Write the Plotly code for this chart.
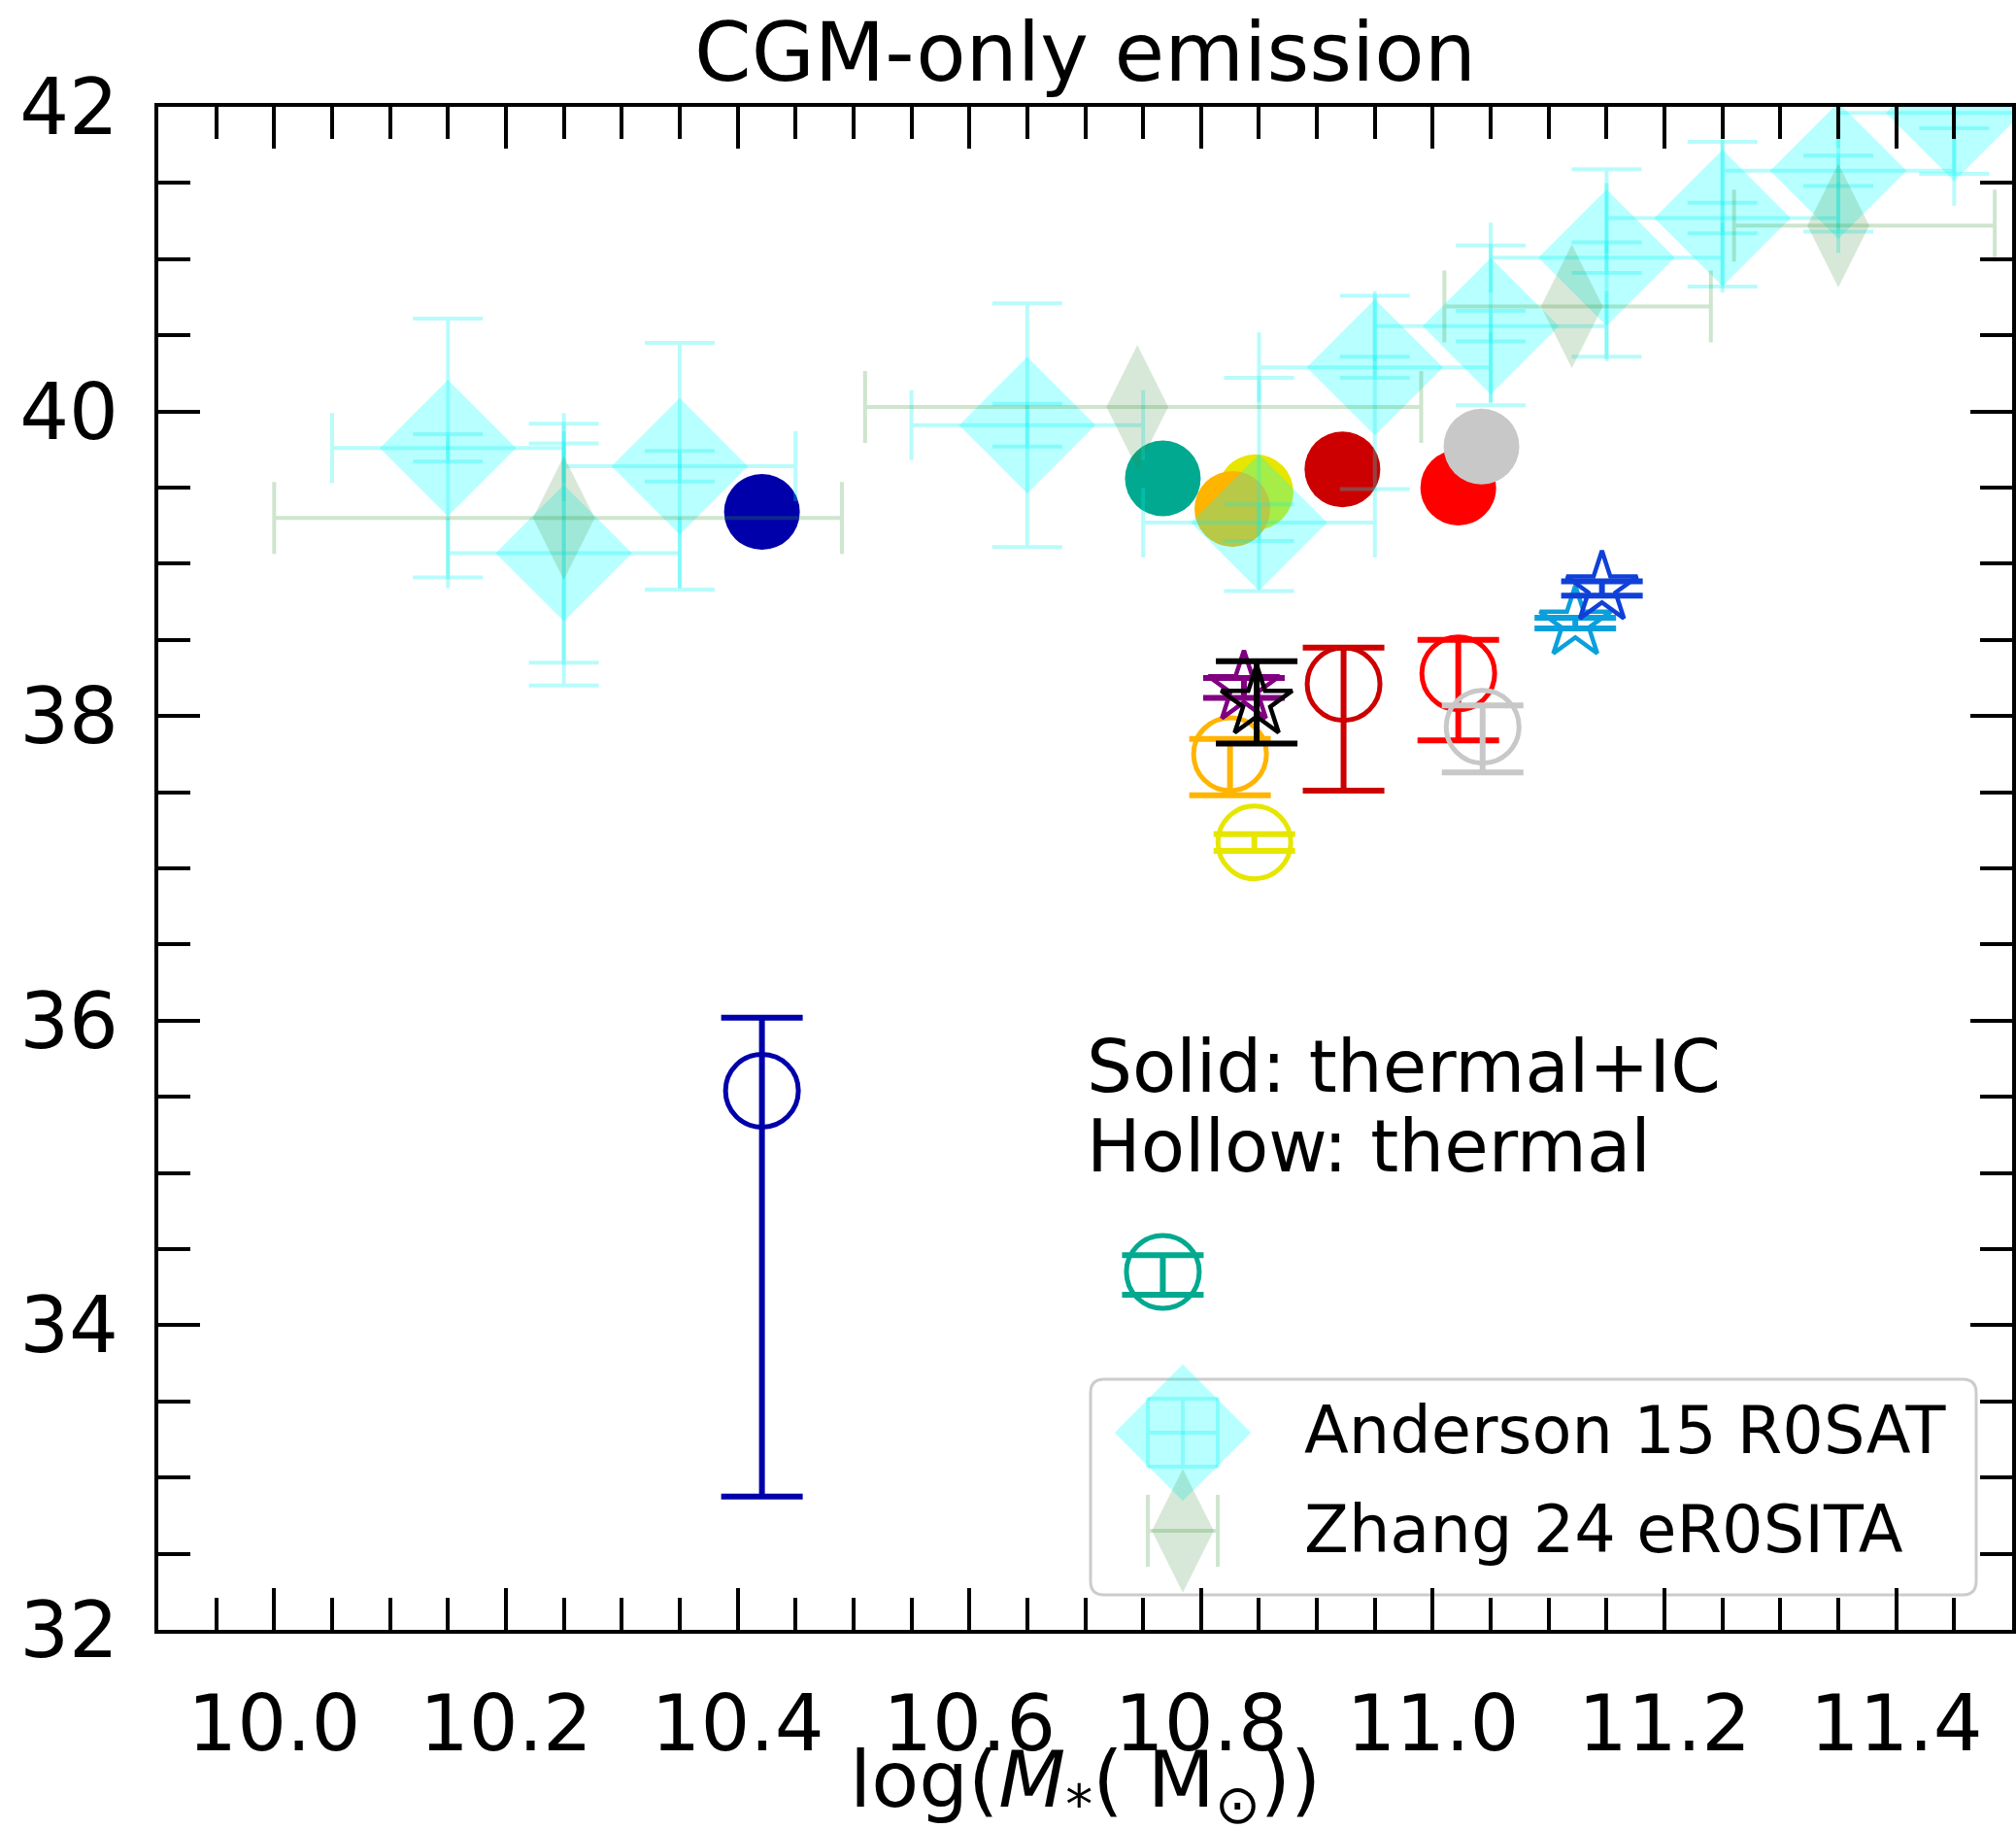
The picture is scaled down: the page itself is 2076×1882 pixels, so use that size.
import plotly.graph_objects as go

FONT = "DejaVu Sans"

# ---------------------------------------------------------------------------
# Observations
# ---------------------------------------------------------------------------
# Anderson et al. 2015, ROSAT stacks
anderson_mass = [10.15, 10.25, 10.35, 10.65, 10.85, 10.95, 11.05, 11.15, 11.25, 11.35, 11.45]
anderson_lx = [39.76, 39.07, 39.64, 39.91, 39.27, 40.29, 40.56, 41.01, 41.27, 41.58, 41.96]
anderson_dmass = [0.1] * 11
anderson_err_up = [0.85, 0.85, 0.81, 0.80, 0.95, 0.47, 0.53, 0.58, 0.50, 0.45, 0.45]
anderson_err_dn = [0.85, 0.87, 0.81, 0.80, 0.45, 0.80, 0.52, 0.65, 0.45, 0.40, 0.40]
anderson_err_stat = [0.09, 0.72, 0.10, 0.14, 0.12, 0.07, 0.10, 0.10, 0.10, 0.10, 0.10]

# Zhang et al. 2024, eROSITA stacks (mass bins)
zhang_mass = [10.25, 10.745, 11.12, 11.35]
zhang_lx = [39.30, 40.03, 40.69, 41.22]
zhang_dmass_lo = [0.25, 0.235, 0.11, 0.09]
zhang_dmass_hi = [0.24, 0.245, 0.12, 0.135]

# ---------------------------------------------------------------------------
# Simulated galaxies
# ---------------------------------------------------------------------------
# thermal + inverse Compton (filled circles)
solid_mass = [10.421, 10.767, 10.847, 10.827, 10.922, 11.022, 11.042]
solid_lx = [39.34, 39.56, 39.47, 39.36, 39.62, 39.50, 39.77]
solid_colors = ["#0000aa", "#00a98f", "#e6e600", "#ffb400", "#cc0000", "#ff0000", "#c8c8c8"]

# thermal only (open circles)
hollow_mass = [10.421, 10.767, 10.846, 10.825, 10.923, 11.022, 11.043]
hollow_lx = [35.54, 34.35, 37.17, 37.75, 38.21, 38.28, 37.93]
hollow_err_up = [0.48, 0.11, 0.055, 0.10, 0.24, 0.22, 0.14]
hollow_err_dn = [2.665, 0.15, 0.055, 0.27, 0.70, 0.44, 0.30]
hollow_colors = ["#0000aa", "#00a98f", "#e6e600", "#ffb400", "#cc0000", "#ff0000", "#c8c8c8"]

# thermal only (open stars)
star_mass = [10.837, 10.848, 11.123, 11.146]
star_lx = [38.185, 38.09, 38.61, 38.84]
star_err_up = [0.065, 0.27, 0.035, 0.045]
star_err_dn = [0.065, 0.27, 0.035, 0.05]
star_colors = ["#800080", "#000000", "#0aa0dc", "#1040d8"]

# axis ticks
x_tick_vals = [10.0, 10.2, 10.4, 10.6, 10.8, 11.0, 11.2, 11.4]
x_tick_text = ["10.0", "10.2", "10.4", "10.6", "10.8", "11.0", "11.2", "11.4"]
y_tick_vals = [32, 34, 36, 38, 40, 42]
y_tick_text = ["32", "34", "36", "38", "40", "42"]

x_title = "log(<i>M</i><sub>*</sub>( M<sub>⊙</sub>))"
legend_labels = ["Anderson 15 R0SAT", "Zhang 24 eR0SITA"]

CYAN_FILL = "rgba(0,255,255,0.28)"
CYAN_LINE = "rgba(0,240,240,0.28)"
GREEN_FILL = "rgba(60,140,60,0.2)"
GREEN_LINE = "rgba(60,150,60,0.25)"

W, H = 2076, 1882
M_L, M_R, M_T, M_B = 163, 4, 110, 204
PW, PH = W - M_L - M_R, H - M_T - M_B

fig = go.Figure()

# filled circles
fig.add_trace(go.Scatter(
    x=solid_mass, y=solid_lx, mode="markers",
    marker=dict(size=78, color=solid_colors, line=dict(width=0)),
    showlegend=False, hoverinfo="skip",
))

# open circles with error bars
for m, lx, up, dn, c in zip(hollow_mass, hollow_lx, hollow_err_up, hollow_err_dn, hollow_colors):
    fig.add_trace(go.Scatter(
        x=[m], y=[lx], mode="markers",
        marker=dict(symbol="circle-open", size=75, color=c, line=dict(width=5)),
        error_y=dict(type="data", symmetric=False, array=[up], arrayminus=[dn],
                     color=c, thickness=6, width=42),
        showlegend=False, hoverinfo="skip",
    ))

# open stars with error bars
for m, lx, up, dn, c in zip(star_mass, star_lx, star_err_up, star_err_dn, star_colors):
    fig.add_trace(go.Scatter(
        x=[m], y=[lx], mode="markers",
        marker=dict(symbol="star-open", size=55, color=c, line=dict(width=4.5)),
        error_y=dict(type="data", symmetric=False, array=[up], arrayminus=[dn],
                     color=c, thickness=6, width=42),
        showlegend=False, hoverinfo="skip",
    ))

# Anderson 15: diamonds with total errors
fig.add_trace(go.Scatter(
    x=anderson_mass, y=anderson_lx, mode="markers",
    marker=dict(symbol="diamond", size=108, color=CYAN_FILL, line=dict(width=0)),
    error_x=dict(type="data", array=anderson_dmass, color=CYAN_LINE, thickness=4, width=36),
    error_y=dict(type="data", symmetric=False, array=anderson_err_up, arrayminus=anderson_err_dn,
                 color=CYAN_LINE, thickness=4, width=36),
    showlegend=False, hoverinfo="skip",
))
# Anderson 15: statistical errors
fig.add_trace(go.Scatter(
    x=anderson_mass, y=anderson_lx, mode="markers",
    marker=dict(size=1, color="rgba(0,0,0,0)"),
    error_y=dict(type="data", array=anderson_err_stat, color=CYAN_LINE, thickness=4, width=36),
    showlegend=False, hoverinfo="skip",
))

# Zhang 24
fig.add_trace(go.Scatter(
    x=zhang_mass, y=zhang_lx, mode="markers",
    marker=dict(symbol="diamond-tall", size=91, color=GREEN_FILL, line=dict(width=0)),
    error_x=dict(type="data", symmetric=False, array=zhang_dmass_hi, arrayminus=zhang_dmass_lo,
                 color=GREEN_LINE, thickness=4, width=37),
    showlegend=False, hoverinfo="skip",
))

# ---------------------------------------------------------------------------
# legend box (drawn by hand so the keys keep their full size)
# ---------------------------------------------------------------------------
def px_x(px):
    return (px - M_L) / PW


def px_y(py):
    return (M_T + PH - py) / PH


bx0, bx1 = px_x(1123), px_x(2035)
by0, by1 = px_y(1642), px_y(1420)
rx, ry = 14 / PW, 14 / PH
box_path = (
    f"M {bx0 + rx},{by0} L {bx1 - rx},{by0} Q {bx1},{by0} {bx1},{by0 + ry} "
    f"L {bx1},{by1 - ry} Q {bx1},{by1} {bx1 - rx},{by1} L {bx0 + rx},{by1} "
    f"Q {bx0},{by1} {bx0},{by1 - ry} L {bx0},{by0 + ry} Q {bx0},{by0} {bx0 + rx},{by0} Z"
)
fig.add_shape(type="path", path=box_path, xref="paper", yref="paper",
              line=dict(color="#cccccc", width=3), fillcolor="white", layer="below")

key_x = px_x(1218)
key_y = [px_y(1475), px_y(1576)]
key_dx = 36 / PW
key_dy = 35 / PH

fig.add_trace(go.Scatter(
    x=[key_x], y=[key_y[0]], mode="markers", xaxis="x2", yaxis="y2",
    marker=dict(symbol="diamond", size=108, color=CYAN_FILL, line=dict(width=0)),
    error_x=dict(type="data", array=[key_dx], color=CYAN_LINE, thickness=4, width=36),
    error_y=dict(type="data", array=[key_dy], color=CYAN_LINE, thickness=4, width=36),
    showlegend=False, hoverinfo="skip",
))
fig.add_trace(go.Scatter(
    x=[key_x], y=[key_y[1]], mode="markers", xaxis="x2", yaxis="y2",
    marker=dict(symbol="diamond-tall", size=91, color=GREEN_FILL, line=dict(width=0)),
    error_x=dict(type="data", array=[key_dx], color=GREEN_LINE, thickness=4, width=37),
    showlegend=False, hoverinfo="skip",
))

for lab, yy in zip(legend_labels, [px_y(1473), px_y(1575)]):
    fig.add_annotation(text=lab, x=px_x(1341), y=yy, xref="paper", yref="paper",
                       xanchor="left", yanchor="middle", showarrow=False,
                       font=dict(family=FONT, size=67, color="black"))

# marker-style note
fig.add_annotation(text="Solid: thermal+IC", x=px_x(1117), y=px_y(1098), xref="paper", yref="paper",
                   xanchor="left", yanchor="middle", showarrow=False,
                   font=dict(family=FONT, size=74, color="black"))
fig.add_annotation(text="Hollow: thermal", x=px_x(1117), y=px_y(1180), xref="paper", yref="paper",
                   xanchor="left", yanchor="middle", showarrow=False,
                   font=dict(family=FONT, size=74, color="black"))

# x-axis title, placed below the tick labels
fig.add_annotation(text=x_title, x=0.5, y=px_y(1784), xref="paper", yref="paper",
                   xanchor="center", yanchor="top", showarrow=False,
                   font=dict(family=FONT, size=80, color="black"))

axis_style = dict(
    showline=True, linecolor="black", linewidth=4, mirror="ticks",
    ticks="inside", ticklen=43, tickwidth=4, tickcolor="black",
    showgrid=False, zeroline=False, automargin=False,
    tickfont=dict(family=FONT, size=80, color="black"),
)

fig.update_layout(
    width=W, height=H,
    margin=dict(l=M_L, r=M_R, t=M_T, b=M_B),
    paper_bgcolor="white", plot_bgcolor="white",
    showlegend=False,
    title=dict(text="CGM-only emission", font=dict(family=FONT, size=84, color="black"),
               x=0.5, xref="paper", xanchor="center",
               y=1 - 54 / H, yref="container", yanchor="middle"),
    xaxis=dict(
        range=[9.9, 11.5], tickmode="array", tickvals=x_tick_vals, ticktext=x_tick_text,
        minor=dict(tickmode="linear", tick0=10.0, dtick=0.05, ticks="inside", ticklen=33,
                   tickwidth=4, tickcolor="black", showgrid=False),
        ticklabelstandoff=24,
        **axis_style,
    ),
    yaxis=dict(
        range=[32, 42], tickmode="array", tickvals=y_tick_vals, ticktext=y_tick_text,
        minor=dict(tickmode="linear", tick0=32, dtick=0.5, ticks="inside", ticklen=33,
                   tickwidth=4, tickcolor="black", showgrid=False),
        ticklabelstandoff=21,
        **axis_style,
    ),
    xaxis2=dict(overlaying="x", anchor="y2", range=[0, 1], visible=False, fixedrange=True),
    yaxis2=dict(overlaying="y", anchor="x2", range=[0, 1], visible=False, fixedrange=True),
)

fig.write_html("out.html", config={"displayModeBar": False})
